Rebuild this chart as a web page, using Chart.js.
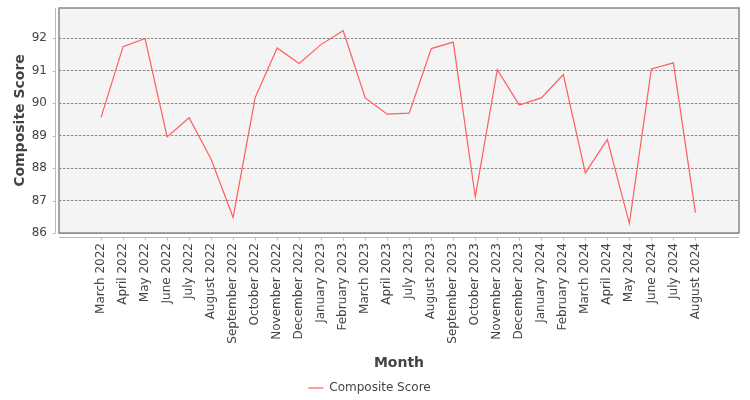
<!DOCTYPE html>
<html>
<head>
<meta charset="utf-8">
<script src="https://cdn.jsdelivr.net/npm/chart.js@4.4.1/dist/chart.umd.min.js"></script>
<style>
  html, body { margin: 0; padding: 0; background: #fff; }
  #wrap { width: 750px; height: 400px; }
</style>
</head>
<body>
<div id="wrap"><canvas id="scoreChart" width="750" height="400"></canvas></div>
<script>
const months = [
  "March 2022", "April 2022", "May 2022", "June 2022", "July 2022",
  "August 2022", "September 2022", "October 2022", "November 2022",
  "December 2022", "January 2023", "February 2023", "March 2023",
  "April 2023", "July 2023", "August 2023", "September 2023",
  "October 2023", "November 2023", "December 2023", "January 2024",
  "February 2024", "March 2024", "April 2024", "May 2024", "June 2024",
  "July 2024", "August 2024",
];

const scores = [
  89.56, 91.74, 91.99, 88.96, 89.55, 88.27, 86.48, 90.17, 91.70,
  91.22, 91.81, 92.23, 90.16, 89.66, 89.69, 91.68, 91.88, 87.11,
  91.03, 89.94, 90.16, 90.88, 87.85, 88.88, 86.29, 91.05, 91.24,
  86.63,
];

const yTicks = [86, 87, 88, 89, 90, 91, 92];

const byId = (id) => document.getElementById(id);

// plot background, frame and the detached axis lines
const plotFrame = {
  id: "plotFrame",
  beforeDraw(chart) {
    const { ctx, chartArea: a } = chart;
    ctx.save();
    ctx.fillStyle = "#f4f4f4";
    ctx.fillRect(a.left, a.top, a.right - a.left, a.bottom - a.top);
    ctx.restore();
  },
  afterDraw(chart) {
    const { ctx, chartArea: a, scales } = chart;
    ctx.save();
    ctx.strokeStyle = "#888";
    ctx.lineWidth = 1.5;
    ctx.strokeRect(a.left, a.top, a.right - a.left, a.bottom - a.top);

    ctx.strokeStyle = "#bbb";
    ctx.lineWidth = 1;
    ctx.beginPath();
    const ax = a.left - 3.5;
    ctx.moveTo(ax, a.top);
    ctx.lineTo(ax, a.bottom);
    scales.y.ticks.forEach((t, i) => {
      const py = Math.round(scales.y.getPixelForTick(i)) + 0.5;
      ctx.moveTo(ax - 3, py);
      ctx.lineTo(ax, py);
    });
    const ay = a.bottom + 4.5;
    ctx.moveTo(a.left, ay);
    ctx.lineTo(a.right, ay);
    scales.x.ticks.forEach((t, i) => {
      const px = Math.round(scales.x.getPixelForTick(i)) + 0.5;
      ctx.moveTo(px, ay);
      ctx.lineTo(px, ay + 3);
    });
    ctx.stroke();
    ctx.restore();
  },
};

const noPad = (s) => {
  s.paddingTop = 0;
  s.paddingBottom = 0;
  s.paddingLeft = 0;
  s.paddingRight = 0;
};

const initChart = () => {
  const canvas = byId("scoreChart");
  if (!canvas) return null;

  return new Chart(canvas, {
    type: "line",
    data: {
      datasets: [
        {
          label: "Composite Score",
          data: months.map((m, i) => ({ x: i, y: scores[i] })),
          borderColor: "#ff5e5e",
          borderWidth: 1.2,
          pointRadius: 0,
          tension: 0,
          fill: false,
        },
      ],
    },
    options: {
      responsive: false,
      animation: false,
      layout: { padding: { top: 8, right: 11, left: 0, bottom: -4 } },
      plugins: {
        legend: {
          position: "bottom",
          labels: {
            usePointStyle: true,
            pointStyle: "line",
            pointStyleWidth: 15,
            color: "#444",
            padding: 10,
            font: { family: "DejaVu Sans", size: 12 },
          },
        },
        tooltip: { enabled: false },
      },
      scales: {
        x: {
          type: "linear",
          min: -1.91,
          max: 28.98,
          afterBuildTicks: (s) => {
            s.ticks = months.map((m, i) => ({ value: i }));
          },
          afterFit: (s) => {
            s.height = 139;
            noPad(s);
          },
          grid: { display: false, drawTicks: false },
          border: { display: false },
          ticks: {
            autoSkip: false,
            maxRotation: 90,
            minRotation: 90,
            padding: 10,
            color: "#444",
            font: { family: "DejaVu Sans", size: 12 },
            callback: (v) => months[v],
          },
          title: {
            display: true,
            text: "Month",
            color: "#444",
            padding: { top: 0, bottom: 0 },
            font: { family: "DejaVu Sans", size: 14, weight: "bold" },
          },
        },
        y: {
          min: 86,
          max: 92.93,
          afterBuildTicks: (s) => {
            s.ticks = yTicks.map((v) => ({ value: v }));
          },
          afterFit: (s) => {
            s.width = 59;
            noPad(s);
          },
          grid: {
            color: "#8a8a8a",
            lineWidth: 1,
            drawTicks: false,
          },
          border: { display: false, dash: [2.5, 1.5] },
          ticks: {
            padding: 12,
            color: "#444",
            font: { family: "DejaVu Sans", size: 12 },
          },
          title: {
            display: true,
            text: "Composite Score",
            color: "#444",
            padding: { top: 12, bottom: 0 },
            font: { family: "DejaVu Sans", size: 14, weight: "bold" },
          },
        },
      },
    },
    plugins: [plotFrame],
  });
};

initChart();
</script>
</body>
</html>
